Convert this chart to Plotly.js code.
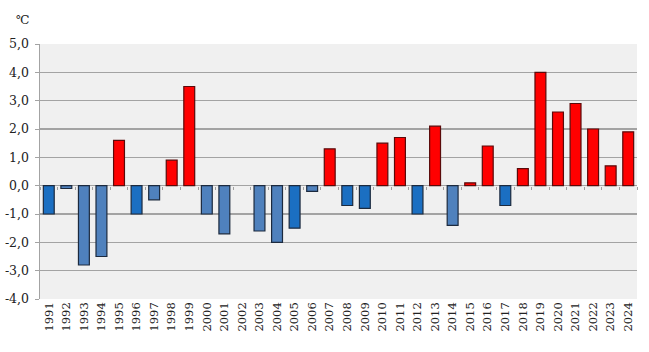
<!DOCTYPE html>
<html><head><meta charset="utf-8">
<script src="https://cdn.plot.ly/plotly-3.0.1.min.js"></script>
<style>body{margin:0;background:#fff}</style>
</head><body>
<div id="chart" style="width:649px;height:352px"></div>
<script>
const years = ['1991','1992','1993','1994','1995','1996','1997','1998','1999','2000','2001','2002','2003','2004','2005','2006','2007','2008','2009','2010','2011','2012','2013','2014','2015','2016','2017','2018','2019','2020','2021','2022','2023','2024'];
const anomalies = [-1.0,-0.1,-2.8,-2.5,1.6,-1.0,-0.5,0.9,3.5,-1.0,-1.7,0,-1.6,-2.0,-1.5,-0.2,1.3,-0.7,-0.8,1.5,1.7,-1.0,2.1,-1.4,0.1,1.4,-0.7,0.6,4.0,2.6,2.9,2.0,0.7,1.9];
// shade of blue bars in the original (b = bright, s = steel)
const blueShade = {'1991':'b','1996':'b','2005':'b','2008':'b','2009':'b','2012':'b','2017':'b'};
const yTickVals = [-4,-3,-2,-1,0,1,2,3,4,5];
const yTickText = ['-4,0','-3,0','-2,0','-1,0','0,0','1,0','2,0','3,0','4,0','5,0'];
const unitLabel = '℃';

const RED = '#FF0000', BRIGHT = '#1B6FC2', STEEL = '#4F81BD';
const fill = anomalies.map((v,i)=> v>=0 ? RED : (blueShade[years[i]]==='b' ? BRIGHT : STEEL));
const edge = anomalies.map(v=> v>=0 ? '#5A0A0A' : '#1C2A3E');
const edgeW = anomalies.map(v=> v===0 ? 0 : 1.2);
const yr = [-4,5];
const zeroPos = (0 - yr[0])/(yr[1]-yr[0]);
const bounds = years.map((_,i)=>i-0.5).concat([years.length-0.5]);
const SERIF = 'DejaVu Serif';

const traces = [
  {type:'bar', x:years, y:anomalies, marker:{color:fill, line:{color:edge,width:edgeW}}, width:0.62, hoverinfo:'x+y'},
  {type:'scatter', x:[0], y:[0], xaxis:'x2', yaxis:'y', mode:'markers', marker:{opacity:0}, hoverinfo:'skip', showlegend:false}
];
const layout = {
  width:649, height:352,
  margin:{l:40,r:12,t:44,b:53},
  paper_bgcolor:'#FFFFFF', plot_bgcolor:'#F0F0F0',
  showlegend:false, bargap:0.38,
  font:{family:SERIF, color:'#222'},
  xaxis:{type:'category', tickangle:-90, tickfont:{family:SERIF,size:11.5,color:'#222'}, showgrid:false, showline:false, ticks:'', zeroline:false, automargin:false},
  xaxis2:{overlaying:'x', type:'linear', range:[-0.5, years.length-0.5], anchor:'free', position:zeroPos,
          tickmode:'array', tickvals:bounds, showticklabels:false, ticks:'outside', ticklen:3, tickcolor:'#A0A0A0', showline:false, showgrid:false, zeroline:false},
  yaxis:{range:yr, tickmode:'array', tickvals:yTickVals, ticktext:yTickText, tickfont:{family:SERIF,size:12.5,color:'#222'},
         showgrid:true, gridcolor:'#A3A3A3', gridwidth:1.5, zeroline:true, zerolinecolor:'#A3A3A3', zerolinewidth:1.5,
         showline:true, linecolor:'#A3A3A3', linewidth:1.5, ticks:'outside', ticklen:4, tickcolor:'#A3A3A3', ticklabelstandoff:3, automargin:false},
  annotations:[{text:unitLabel, xref:'paper', yref:'paper', x:-0.03, y:1.0, yshift:24, xanchor:'center', yanchor:'middle', showarrow:false, font:{family:SERIF,size:12,color:'#222'}}]
};
Plotly.newPlot('chart', traces, layout, {displayModeBar:false, staticPlot:true});
</script>
</body></html>
